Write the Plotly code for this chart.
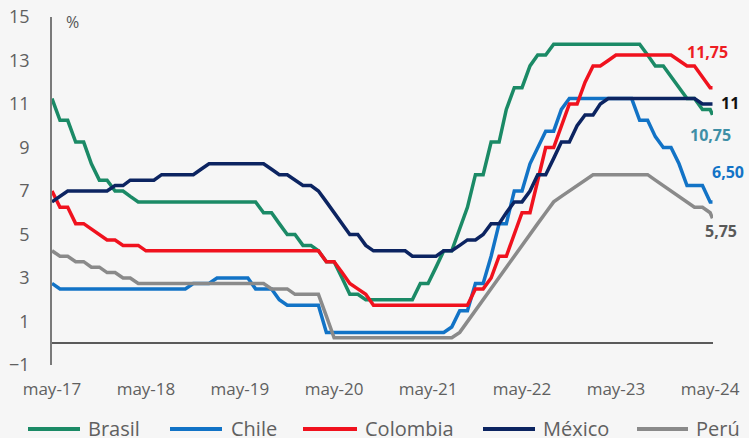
import pandas as pd
import plotly.graph_objects as go

# ---------------- data (start-of-month policy rates, %) ----------------
months = pd.date_range("2017-05-01", "2024-05-01", freq="MS")
dates = list(months.strftime("%Y-%m-%d")) + ["2024-05-10"]

brasil = ([11.25, 10.25, 10.25, 9.25, 9.25, 8.25, 7.5, 7.5, 7.0, 7.0, 6.75, 6.5]
          + [6.5] * 15
          + [6.0, 6.0, 5.5, 5.0, 5.0, 4.5, 4.5, 4.25, 3.75, 3.75, 3.0, 2.25, 2.25]
          + [2.0] * 7
          + [2.75, 2.75, 3.5, 4.25, 4.25, 5.25, 6.25, 7.75, 7.75, 9.25, 9.25,
             10.75, 11.75, 11.75, 12.75, 13.25, 13.25]
          + [13.75] * 12
          + [13.25, 12.75, 12.75, 12.25, 11.75, 11.25, 11.25, 10.75, 10.75, 10.5])

chile = ([2.75] + [2.5] * 17 + [2.75, 2.75, 2.75] + [3.0] * 5
         + [2.5, 2.5, 2.5, 2.0] + [1.75] * 5 + [0.5] * 16
         + [0.75, 1.5, 1.5, 2.75, 2.75, 4.0, 5.5, 5.5, 7.0, 7.0, 8.25, 9.0,
            9.75, 9.75, 10.75]
         + [11.25] * 9
         + [10.25, 10.25, 9.5, 9.0, 9.0, 8.25, 7.25, 7.25, 7.25, 6.5, 6.5])

colombia = ([7.0, 6.25, 6.25, 5.5, 5.5, 5.25, 5.0, 4.75, 4.75, 4.5, 4.5, 4.5]
            + [4.25] * 23
            + [3.75, 3.75, 3.25, 2.75, 2.5, 2.25]
            + [1.75] * 13
            + [2.5, 2.5, 3.0, 4.0, 4.0, 5.0, 6.0, 6.0, 7.5, 9.0, 9.0, 10.0,
               11.0, 11.0, 12.0, 12.75, 12.75, 13.0]
            + [13.25] * 8
            + [13.0, 12.75, 12.75, 12.25, 11.75, 11.75])

mexico = ([6.5, 6.75] + [7.0] * 6 + [7.25, 7.25] + [7.5] * 4 + [7.75] * 5
          + [8.0] + [8.25] * 8
          + [8.0, 7.75, 7.75, 7.5, 7.25, 7.25, 7.0, 6.5, 6.0, 5.5, 5.0, 5.0, 4.5]
          + [4.25] * 5 + [4.0] * 4
          + [4.25, 4.25, 4.5, 4.75, 4.75, 5.0, 5.5, 5.5, 6.0, 6.5, 6.5, 7.0,
             7.75, 7.75, 8.5, 9.25, 9.25, 10.0, 10.5, 10.5, 11.0]
          + [11.25] * 12
          + [11.0, 11.0, 11.0])

peru = ([4.25, 4.0, 4.0, 3.75, 3.75, 3.5, 3.5, 3.25, 3.25, 3.0, 3.0]
        + [2.75] * 17
        + [2.5, 2.5, 2.5] + [2.25] * 4 + [1.25] + [0.25] * 16
        + [0.5, 1.0, 1.5, 2.0, 2.5, 3.0, 3.5, 4.0, 4.5, 5.0, 5.5, 6.0, 6.5,
           6.75, 7.0, 7.25, 7.5]
        + [7.75] * 8
        + [7.5, 7.25, 7.0, 6.75, 6.5, 6.25, 6.25, 6.0, 5.75])

series_names = ["Brasil", "Chile", "Colombia", "México", "Perú"]
series_values = [brasil, chile, colombia, mexico, peru]
end_labels = ["10,75", "6,50", "11,75", "11", "5,75"]

tick_dates = ["2017-05-01", "2018-05-01", "2019-05-01", "2020-05-01",
              "2021-05-01", "2022-05-01", "2023-05-01", "2024-05-01"]
tick_text = ["may-17", "may-18", "may-19", "may-20",
             "may-21", "may-22", "may-23", "may-24"]
y_ticks = [-1, 1, 3, 5, 7, 9, 11, 13, 15]

# ---------------- styling ----------------
line_colors = ["#1b8a66", "#1273c6", "#f0121e", "#0c2461", "#8a8a8a"]
label_colors = ["#3f8fa6", "#1273c6", "#ee1d23", "#111111", "#595959"]
label_shift = [(-2, -20), (16, 30), (-5, 36), (18, 1), (9, -13)]
FONT = "Open Sans"
TXT = "#606060"

W, H = 749, 438
ML, MR, MT, MB = 52, 36, 17, 73
PW, PH = W - ML - MR, H - MT - MB


def px_x(p):
    return (p - ML) / PW


def px_y(p):
    return (H - MB - p) / PH


fig = go.Figure()
for name, vals, col in zip(series_names, series_values, line_colors):
    fig.add_trace(go.Scatter(x=dates, y=vals, mode="lines", name=name,
                             line=dict(color=col, width=3.5),
                             showlegend=False, hoverinfo="skip"))

# end-of-line value labels
for vals, txt, col, (dx, dy) in zip(series_values, end_labels, label_colors, label_shift):
    fig.add_annotation(x=dates[-1], y=vals[-1], text=txt, showarrow=False,
                       xshift=dx, yshift=dy, xanchor="center", yanchor="middle",
                       font=dict(family=FONT, size=16, color=col, weight=700))

# custom legend
legend_pos = [(28, 80, 86), (170, 222, 229), (303, 357, 363),
              (483, 535, 541), (637, 688, 694)]
for name, col, (x0, x1, xt) in zip(series_names, line_colors, legend_pos):
    fig.add_shape(type="line", xref="paper", yref="paper",
                  x0=px_x(x0), x1=px_x(x1), y0=px_y(429), y1=px_y(429),
                  line=dict(color=col, width=4))
    fig.add_annotation(xref="paper", yref="paper", x=px_x(xt), y=px_y(428),
                       text=name, showarrow=False, xanchor="left", yanchor="middle",
                       font=dict(family=FONT, size=20, color=TXT))

# unit label
fig.add_annotation(xref="paper", yref="paper", x=px_x(72), y=px_y(22), text="%",
                   showarrow=False, xanchor="center", yanchor="middle",
                   font=dict(family=FONT, size=16, color="#555555"))

fig.update_layout(
    width=W, height=H, autosize=False,
    margin=dict(l=ML, r=MR, t=MT, b=MB, pad=0, autoexpand=False),
    paper_bgcolor="#f6f6f6", plot_bgcolor="#f6f6f6",
    showlegend=False,
    font=dict(family=FONT, color=TXT),
)
fig.update_xaxes(type="date", range=["2017-05-01", "2024-05-12"],
                 tickvals=tick_dates, ticktext=tick_text, automargin=False,
                 showgrid=False, zeroline=False, showline=False, ticks="",
                 tickfont=dict(family=FONT, size=17, color=TXT),
                 ticklabelstandoff=12)
fig.update_yaxes(range=[-1, 15], tickvals=y_ticks, automargin=False,
                 showgrid=False, zeroline=True, zerolinecolor="#5a5a5a",
                 zerolinewidth=2, showline=True, linecolor="#7a7a7a", linewidth=1.5,
                 ticks="", tickfont=dict(family=FONT, size=18, color=TXT),
                 ticklabelstandoff=17)

fig.write_html("out.html")
